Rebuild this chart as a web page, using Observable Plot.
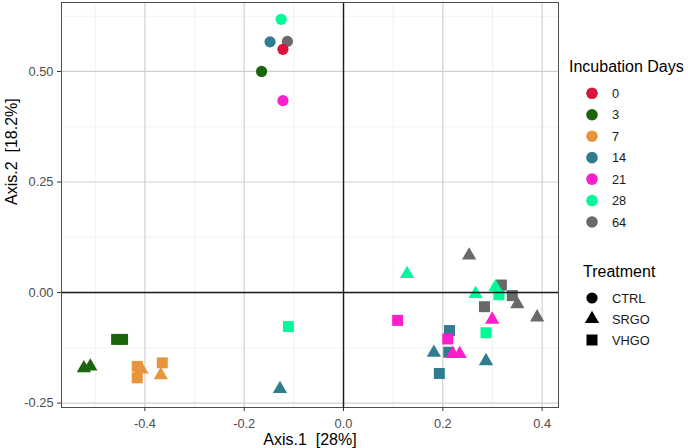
<!DOCTYPE html>
<html><head><meta charset="utf-8">
<script src="https://cdn.jsdelivr.net/npm/d3@7"></script>
<script src="https://cdn.jsdelivr.net/npm/@observablehq/plot@0.6"></script>
<style>
html,body{margin:0;padding:0;background:#fff;}
#wrap{position:relative;width:688px;height:448px;font-family:"Liberation Sans",Arial,sans-serif;background:#fff;}
#chart{position:absolute;left:0;top:0;}
#legend{position:absolute;left:560px;top:0;}
</style></head><body>
<div id="wrap"><div id="chart"></div><svg id="legend" width="128" height="448"></svg></div>
<script>
// ---- data ----
const dayLevels = ["0","3","7","14","21","28","64"];
const treatmentLevels = ["CTRL","SRGO","VHGO"];
const sampleDay = [
  "3","3","3","3","3",
  "7","7","7","7","7",
  "14","14","14","14","14","14","14",
  "21","21","21","21","21","21",
  "28","28","28","28","28","28","28",
  "64","64","64","64","64","64","64",
  "0"
];
const sampleTreatment = [
  "CTRL","SRGO","SRGO","VHGO","VHGO",
  "VHGO","VHGO","SRGO","VHGO","SRGO",
  "CTRL","SRGO","SRGO","SRGO","VHGO","VHGO","VHGO",
  "CTRL","VHGO","VHGO","SRGO","SRGO","SRGO",
  "CTRL","SRGO","SRGO","SRGO","VHGO","VHGO","VHGO",
  "CTRL","SRGO","SRGO","SRGO","VHGO","VHGO","VHGO",
  "CTRL"
];
const axis1 = [
  -0.165,-0.523,-0.510,-0.457,-0.445,
  -0.4155,-0.4155,-0.407,-0.365,-0.368,
  -0.148,-0.128,0.182,0.287,0.2135,0.212,0.193,
  -0.122,0.109,0.210,0.2995,0.220,0.234,
  -0.1256,0.128,0.266,0.306,-0.111,0.313,0.287,
  -0.113,0.253,0.350,0.390,0.318,0.340,0.284,
  -0.122
];
const axis2 = [
  0.500,-0.171,-0.167,-0.106,-0.106,
  -0.167,-0.193,-0.174,-0.159,-0.187,
  0.567,-0.218,-0.136,-0.155,-0.086,-0.135,-0.183,
  0.434,-0.063,-0.105,-0.061,-0.139,-0.139,
  0.618,0.042,-0.003,0.012,-0.077,-0.005,-0.091,
  0.568,0.084,-0.026,-0.056,0.017,-0.007,-0.032,
  0.550
];
const xTicks = [-0.4,-0.2,0,0.2,0.4];
const xMinor = [-0.5,-0.3,-0.1,0.1,0.3];
const yTicks = [-0.25,0,0.25,0.5];
const yMinor = [-0.125,0.125,0.375,0.625];
const zeroLines = [0];
const xTitle = "Axis.1\u00a0\u00a0[28%]";
const yTitle = "Axis.2\u00a0\u00a0[18.2%]";
const dayTitle = "Incubation Days";
const treatmentTitle = "Treatment";

// ---- styles ----
const palette = ["#D7143C","#1B650C","#E8943A","#2F7D8E","#FA1ECD","#00FA9A","#696969"];
const shapes = ["circle","triangle","square"];
const shapeR = {CTRL:5.6, SRGO:5.3, VHGO:6.2};
const FONT = '"Liberation Sans", Arial, sans-serif';

const data = sampleDay.map((d,i)=>({day:d, treatment:sampleTreatment[i], x:axis1[i], y:axis2[i]}));

const chart = Plot.plot({
  width:560, height:448,
  marginLeft:61, marginRight:2, marginTop:2, marginBottom:41,
  x:{domain:[-0.568,0.433], label:null},
  y:{domain:[-0.260,0.656], label:null},
  color:{domain:dayLevels, range:palette},
  symbol:{domain:treatmentLevels, range:shapes},
  r:{type:"identity"},
  style:{fontFamily:FONT, fontSize:"12.8px", background:"#fff", overflow:"visible"},
  marks:[
    Plot.ruleX(xMinor,{stroke:"#EDEDED", strokeWidth:0.7}),
    Plot.ruleY(yMinor,{stroke:"#EDEDED", strokeWidth:0.7}),
    Plot.ruleX(xTicks,{stroke:"#D0D0D0", strokeWidth:1.2}),
    Plot.ruleY(yTicks,{stroke:"#D0D0D0", strokeWidth:1.2}),
    Plot.dot(data,{x:"x", y:"y", fill:"day", symbol:"treatment", r:d=>shapeR[d.treatment]}),
    Plot.ruleX(zeroLines,{stroke:"#1a1a1a", strokeWidth:1.4}),
    Plot.ruleY(zeroLines,{stroke:"#1a1a1a", strokeWidth:1.4}),
    Plot.frame({stroke:"#4d4d4d", strokeWidth:1}),
    Plot.axisX({ticks:xTicks, tickSize:4, tickPadding:7, stroke:"#333", fill:"#4d4d4d", fontSize:12.8, tickFormat:d=>d.toFixed(1), label:null}),
    Plot.axisY({ticks:yTicks, tickSize:4, tickPadding:4, stroke:"#333", fill:"#4d4d4d", fontSize:12.8, tickFormat:d=>d.toFixed(2), label:null}),
    Plot.text([xTitle],{frameAnchor:"bottom", dy:32, fontSize:16, fill:"#000", lineAnchor:"middle", text:d=>d}),
    Plot.text([yTitle],{frameAnchor:"left", dx:-50, rotate:-90, fontSize:16, fill:"#000", lineAnchor:"middle", text:d=>d})
  ]
});
document.getElementById("chart").appendChild(chart);

// ---- legend ----
const lg = d3.select("#legend").style("font-family", FONT);
lg.append("text").attr("x",9).attr("y",72).attr("font-size",16).attr("fill","#000").text(dayTitle);
dayLevels.forEach((d,i)=>{
  const cy = 93.3 + i*21.45;
  lg.append("circle").attr("cx",32).attr("cy",cy).attr("r",5.8).attr("fill",palette[i]);
  lg.append("text").attr("x",52).attr("y",cy+4.5).attr("font-size",12.8).attr("fill","#1a1a1a").text(d);
});
lg.append("text").attr("x",23).attr("y",276.5).attr("font-size",16).attr("fill","#000").text(treatmentTitle);
const symTypes = {circle:d3.symbolCircle, triangle:d3.symbolTriangle, square:d3.symbolSquare};
treatmentLevels.forEach((t,i)=>{
  const cy = 298 + i*21;
  const r = shapeR[t];
  lg.append("path").attr("transform",`translate(32,${cy})`)
    .attr("d", d3.symbol(symTypes[shapes[i]], Math.PI*r*r)()).attr("fill","#000");
  lg.append("text").attr("x",52).attr("y",cy+4.5).attr("font-size",12.8).attr("fill","#1a1a1a").text(t);
});
</script>
</body></html>
